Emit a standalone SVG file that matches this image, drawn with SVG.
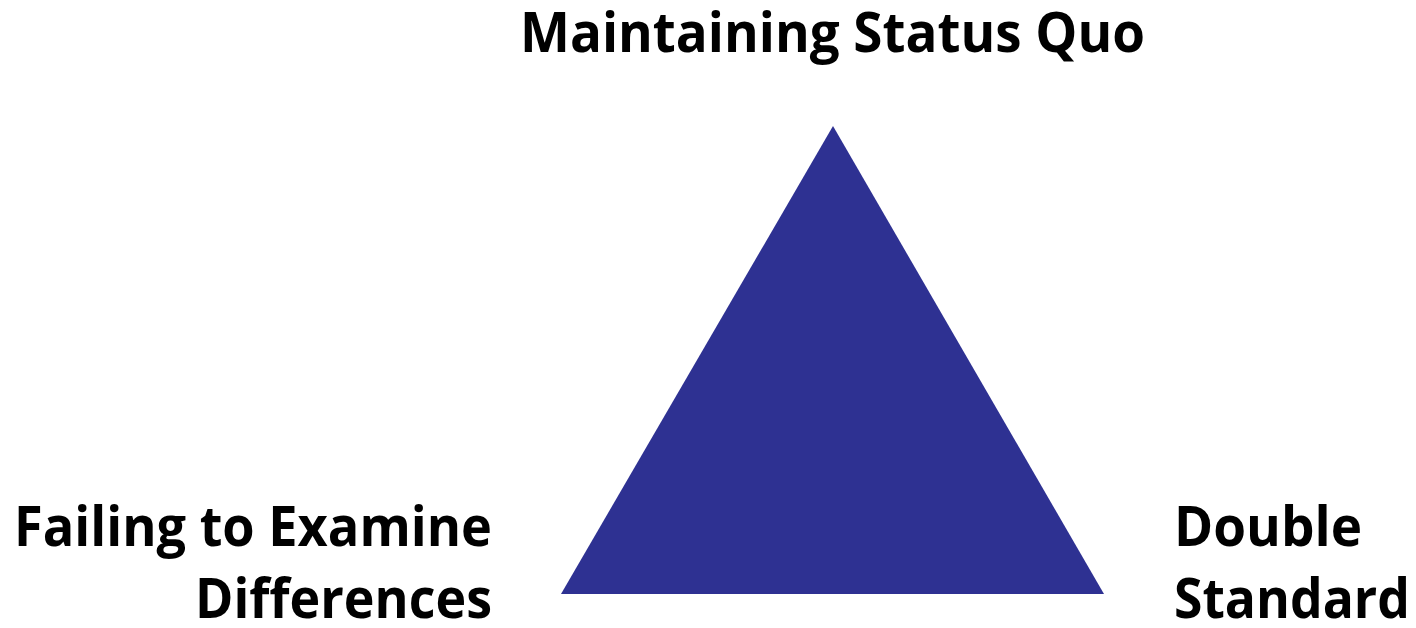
<svg xmlns="http://www.w3.org/2000/svg" width="1416" height="628" viewBox="0 0 1416 628">
<style>
.lbl{font-family:"Open Sans","Liberation Sans",sans-serif;font-weight:bold;font-size:56px;fill:#000}
</style>
<rect width="1416" height="628" fill="#fff"/>
<g id="triangle"><polygon points="833,126 1104,594 561,594" fill="#2E3192"/></g>
<g id="connectors"></g>
<g id="top"><text class="lbl" x="520" y="52" textLength="625" lengthAdjust="spacingAndGlyphs">Maintaining Status Quo</text></g>
<g id="left">
<text class="lbl" x="14" y="546" textLength="478" lengthAdjust="spacingAndGlyphs">Failing to Examine</text>
<text class="lbl" x="195" y="618" textLength="297" lengthAdjust="spacingAndGlyphs">Differences</text>
</g>
<g id="right">
<text class="lbl" x="1174" y="546" textLength="188" lengthAdjust="spacingAndGlyphs">Double</text>
<text class="lbl" x="1174" y="618" textLength="236" lengthAdjust="spacingAndGlyphs">Standard</text>
</g>
</svg>
